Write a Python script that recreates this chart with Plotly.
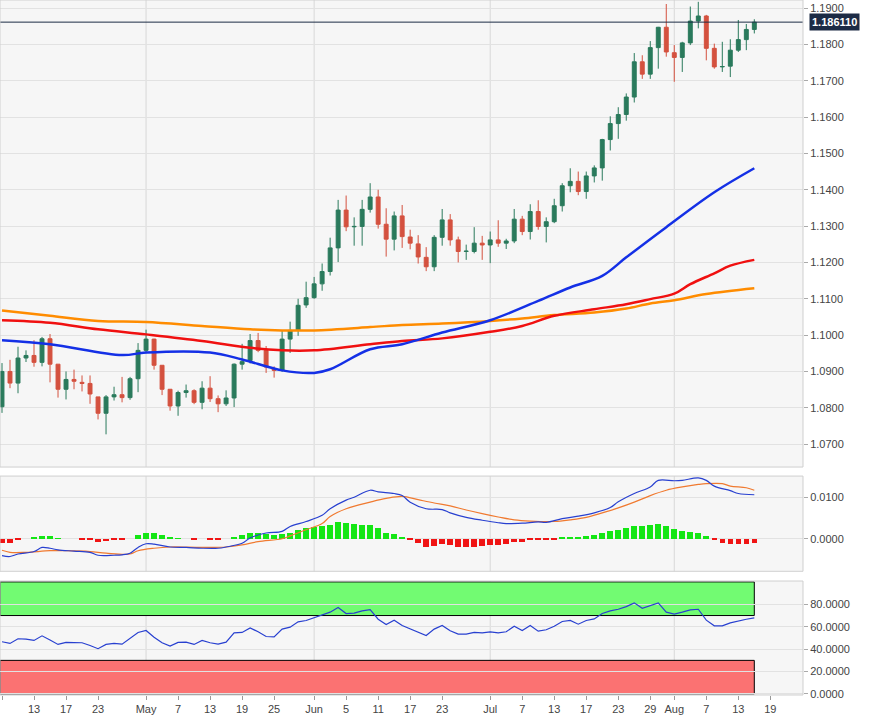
import pandas as pd
import plotly.graph_objects as go

# trading days shown on the chart (EUR/USD daily)
days = pd.bdate_range("2020-04-07", "2020-08-17") + pd.Timedelta(hours=12)

opens = [1.0803, 1.0900, 1.0868, 1.0937, 1.0944, 1.0925, 1.0990, 1.0920, 1.0851, 1.0878,
         1.0870, 1.0867, 1.0830, 1.0785, 1.0830, 1.0836, 1.0828, 1.0880, 1.0958, 1.0989,
         1.0917, 1.0851, 1.0805, 1.0842, 1.0847, 1.0815, 1.0854, 1.0825, 1.0811, 1.0827,
         1.0920, 1.0930, 1.0985, 1.0958, 1.0907, 1.0903, 1.0989, 1.1013, 1.1083, 1.1103,
         1.1141, 1.1175, 1.1240, 1.1344, 1.1298, 1.1299, 1.1346, 1.1380, 1.1305, 1.1264,
         1.1328, 1.1270, 1.1251, 1.1214, 1.1188, 1.1269, 1.1317, 1.1262, 1.1230, 1.1230,
         1.1253, 1.1248, 1.1262, 1.1253, 1.1259, 1.1319, 1.1285, 1.1340, 1.1299, 1.1312,
         1.1356, 1.1411, 1.1423, 1.1395, 1.1438, 1.1460, 1.1538, 1.1582, 1.1607, 1.1655,
         1.1752, 1.1718, 1.1791, 1.1847, 1.1777, 1.1764, 1.1804, 1.1864, 1.1878, 1.1789,
         1.1738, 1.1740, 1.1784, 1.1813, 1.1841]
highs = [1.0923, 1.0932, 1.0968, 1.0958, 1.0986, 1.0995, 1.1003, 1.0920, 1.0900, 1.0905,
         1.0889, 1.0889, 1.0830, 1.0835, 1.0858, 1.0885, 1.0885, 1.0978, 1.1015, 1.0990,
         1.0917, 1.0851, 1.0847, 1.0864, 1.0851, 1.0873, 1.0887, 1.0834, 1.0848, 1.0922,
         1.0976, 1.1003, 1.1006, 1.0970, 1.0914, 1.1013, 1.1037, 1.1100, 1.1147, 1.1160,
         1.1197, 1.1268, 1.1372, 1.1384, 1.1324, 1.1372, 1.1418, 1.1400, 1.1349, 1.1340,
         1.1358, 1.1290, 1.1275, 1.1242, 1.1275, 1.1347, 1.1333, 1.1271, 1.1249, 1.1297,
         1.1273, 1.1285, 1.1316, 1.1265, 1.1347, 1.1328, 1.1360, 1.1371, 1.1324, 1.1375,
         1.1418, 1.1459, 1.1450, 1.1450, 1.1467, 1.1540, 1.1602, 1.1627, 1.1665, 1.1776,
         1.1770, 1.1809, 1.1848, 1.1911, 1.1798, 1.1807, 1.1904, 1.1917, 1.1881, 1.1802,
         1.1807, 1.1814, 1.1867, 1.1856, 1.1869]
lows = [1.0786, 1.0854, 1.0840, 1.0926, 1.0913, 1.0914, 1.0870, 1.0828, 1.0823, 1.0851,
        1.0845, 1.0811, 1.0768, 1.0727, 1.0820, 1.0815, 1.0822, 1.0843, 1.0950, 1.0905,
        1.0835, 1.0792, 1.0778, 1.0828, 1.0810, 1.0796, 1.0816, 1.0788, 1.0805, 1.0802,
        1.0905, 1.0922, 1.0953, 1.0896, 1.0883, 1.0899, 1.0951, 1.0998, 1.1075, 1.1100,
        1.1122, 1.1164, 1.1201, 1.1286, 1.1246, 1.1246, 1.1337, 1.1293, 1.1216, 1.1233,
        1.1240, 1.1236, 1.1197, 1.1176, 1.1176, 1.1246, 1.1246, 1.1200, 1.1207, 1.1225,
        1.1207, 1.1198, 1.1243, 1.1237, 1.1253, 1.1275, 1.1263, 1.1290, 1.1255, 1.1308,
        1.1340, 1.1393, 1.1385, 1.1375, 1.1420, 1.1425, 1.1508, 1.1540, 1.1590, 1.1640,
        1.1705, 1.1705, 1.1733, 1.1766, 1.1697, 1.1724, 1.1798, 1.1844, 1.1756, 1.1733,
        1.1724, 1.1710, 1.1779, 1.1784, 1.1830]
closes = [1.0900, 1.0868, 1.0937, 1.0944, 1.0925, 1.0990, 1.0920, 1.0851, 1.0878, 1.0873,
          1.0867, 1.0838, 1.0785, 1.0830, 1.0836, 1.0828, 1.0880, 1.0958, 1.0989, 1.0917,
          1.0851, 1.0805, 1.0842, 1.0847, 1.0815, 1.0854, 1.0825, 1.0811, 1.0827, 1.0920,
          1.0927, 1.0985, 1.0958, 1.0912, 1.0903, 1.0989, 1.1013, 1.1082, 1.1103, 1.1141,
          1.1175, 1.1240, 1.1344, 1.1298, 1.1299, 1.1346, 1.1380, 1.1305, 1.1264, 1.1328,
          1.1271, 1.1253, 1.1215, 1.1188, 1.1269, 1.1317, 1.1262, 1.1230, 1.1231, 1.1253,
          1.1248, 1.1262, 1.1253, 1.1259, 1.1319, 1.1285, 1.1340, 1.1299, 1.1312, 1.1356,
          1.1411, 1.1423, 1.1395, 1.1438, 1.1460, 1.1538, 1.1582, 1.1607, 1.1655, 1.1752,
          1.1718, 1.1791, 1.1847, 1.1779, 1.1764, 1.1804, 1.1864, 1.1878, 1.1789, 1.1738,
          1.1739, 1.1784, 1.1813, 1.1841, 1.1861]
last_price = 1.186110

# moving averages, sampled at trading-day positions
sma_fast_idx = [0, 6, 15, 18, 26, 30, 35, 39, 41, 46, 50, 55, 61, 67, 71, 75, 78, 83, 89, 94]
sma_fast = [1.0986, 1.0975, 1.0945, 1.0952, 1.0952, 1.0933, 1.0903, 1.0896, 1.0906, 1.0961,
            1.0975, 1.1007, 1.1041, 1.1094, 1.1131, 1.1163, 1.1214, 1.1297, 1.1393, 1.1459]
sma_mid_idx = [0, 6, 12, 18, 25, 31, 35, 39, 46, 50, 55, 61, 65, 69, 74, 78, 81, 84, 86, 89, 91, 94]
sma_mid = [1.1041, 1.1034, 1.1016, 1.1002, 1.0984, 1.0965, 1.0958, 1.0958, 1.0975, 1.0984, 1.0991,
           1.1009, 1.1025, 1.1053, 1.1071, 1.1085, 1.1099, 1.1114, 1.1140, 1.1170, 1.1191, 1.1207]
sma_slow_idx = [0, 6, 12, 18, 25, 31, 35, 39, 46, 50, 55, 61, 65, 69, 74, 78, 81, 84, 88, 94]
sma_slow = [1.1068, 1.1053, 1.1039, 1.1036, 1.1025, 1.1016, 1.1013, 1.1013, 1.1022, 1.1028,
            1.1032, 1.1039, 1.1046, 1.1055, 1.1062, 1.1073, 1.1087, 1.1096, 1.1113, 1.1129]

# MACD
macd_idx = [0, 1, 2, 4, 5, 6, 7, 9, 11, 12, 14, 15, 16, 17, 18, 19, 21, 23, 25, 27, 28, 30, 31, 33,
            35, 36, 38, 40, 41, 43, 44, 46, 47, 49, 50, 51, 53, 55, 56, 58, 60, 62, 63, 65, 67, 68,
            70, 72, 74, 76, 77, 79, 81, 82, 84, 85, 87, 88, 89, 91, 92, 94]
macd = [-0.0041, -0.0043, -0.0037, -0.0031, -0.0021, -0.0023, -0.0027, -0.0030, -0.0033, -0.0040,
        -0.0040, -0.0039, -0.0035, -0.0021, -0.0012, -0.0013, -0.0020, -0.0021, -0.0023, -0.0023,
        -0.0020, -0.0011, 0.0002, 0.0014, 0.0018, 0.0030, 0.0042, 0.0057, 0.0073, 0.0094, 0.0101,
        0.0118, 0.0114, 0.0110, 0.0105, 0.0089, 0.0073, 0.0071, 0.0063, 0.0052, 0.0045, 0.0039,
        0.0037, 0.0038, 0.0041, 0.0040, 0.0049, 0.0055, 0.0063, 0.0076, 0.0090, 0.0110, 0.0126,
        0.0142, 0.0141, 0.0142, 0.0148, 0.0142, 0.0128, 0.0117, 0.0110, 0.0107]
signal_idx = [0, 1, 3, 6, 8, 11, 13, 16, 17, 19, 21, 25, 28, 30, 32, 35, 36, 38, 40, 41, 43, 46, 48,
              50, 52, 54, 56, 58, 60, 62, 64, 66, 69, 71, 73, 75, 77, 79, 81, 83, 85, 87, 88, 90, 91, 93, 94]
signal = [-0.0028, -0.0033, -0.0033, -0.0029, -0.0029, -0.0031, -0.0035, -0.0037, -0.0029, -0.0023,
          -0.0020, -0.0021, -0.0020, -0.0015, -0.0007, 0.0000, 0.0007, 0.0022, 0.0037, 0.0054,
          0.0073, 0.0089, 0.0098, 0.0103, 0.0095, 0.0087, 0.0080, 0.0070, 0.0061, 0.0053, 0.0046,
          0.0043, 0.0042, 0.0046, 0.0052, 0.0063, 0.0075, 0.0089, 0.0105, 0.0118, 0.0126, 0.0132,
          0.0134, 0.0134, 0.0128, 0.0124, 0.0118]
hist = [-0.0011, -0.0011, -0.0003, 0.0000, 0.0002, 0.0007, 0.0006, 0.0001, 0.0000, 0.0000,
        -0.0002, -0.0003, -0.0007, -0.0006, -0.0004, -0.0002, 0.0000, 0.0008, 0.0015, 0.0014,
        0.0008, 0.0002, 0.0001, 0.0000, -0.0001, 0.0000, -0.0001, -0.0002, 0.0000, 0.0005,
        0.0009, 0.0015, 0.0015, 0.0012, 0.0010, 0.0012, 0.0015, 0.0022, 0.0025, 0.0028,
        0.0030, 0.0034, 0.0040, 0.0038, 0.0036, 0.0034, 0.0033, 0.0026, 0.0015, 0.0011,
        0.0003, -0.0002, -0.0011, -0.0019, -0.0017, -0.0013, -0.0015, -0.0019, -0.0020, -0.0019,
        -0.0017, -0.0016, -0.0015, -0.0014, -0.0008, -0.0007, -0.0004, -0.0004, -0.0004, -0.0002,
        0.0002, 0.0005, 0.0005, 0.0007, 0.0009, 0.0014, 0.0019, 0.0022, 0.0026, 0.0032,
        0.0032, 0.0033, 0.0035, 0.0030, 0.0023, 0.0018, 0.0016, 0.0015, 0.0006, -0.0002,
        -0.0011, -0.0013, -0.0013, -0.0012, -0.0011]

rsi = [46.6, 45.1, 49.3, 49.0, 47.8, 51.9, 48.1, 44.2, 46.0, 45.7,
       45.7, 43.3, 40.4, 44.2, 45.1, 44.5, 49.6, 54.9, 56.7, 50.7,
       45.7, 42.7, 46.0, 46.3, 44.2, 47.8, 45.7, 44.5, 46.3, 54.6,
       54.9, 59.0, 55.5, 51.3, 51.0, 57.9, 59.6, 64.4, 65.6, 67.9,
       70.0, 73.0, 77.1, 71.8, 72.1, 74.1, 75.3, 66.7, 62.0, 65.9,
       61.1, 58.1, 55.2, 52.2, 57.9, 61.1, 56.4, 53.4, 53.4, 54.9,
       54.6, 55.5, 54.6, 55.5, 60.5, 56.7, 61.1, 56.1, 57.3, 60.5,
       64.7, 65.6, 62.3, 65.6, 67.0, 71.8, 74.1, 75.6, 78.0, 81.3,
       76.5, 79.2, 81.3, 73.0, 71.2, 73.0, 75.0, 75.6, 65.9, 60.8,
       60.8, 63.5, 65.3, 66.7, 67.9]

tick_days = ["2020-04-07", "2020-04-13", "2020-04-17", "2020-04-23", "2020-05-01", "2020-05-07",
             "2020-05-13", "2020-05-19", "2020-05-25", "2020-06-01", "2020-06-05", "2020-06-11",
             "2020-06-17", "2020-06-23", "2020-07-01", "2020-07-07", "2020-07-13", "2020-07-17",
             "2020-07-23", "2020-07-29", "2020-08-03", "2020-08-07", "2020-08-13", "2020-08-19"]
tick_text = ["7", "13", "17", "23", "May", "7", "13", "19", "25", "Jun", "5", "11", "17", "23",
             "Jul", "7", "13", "17", "23", "29", "Aug", "7", "13", "19"]
month_days = ["2020-05-01", "2020-06-01", "2020-07-01", "2020-08-03"]

x_start = pd.Timestamp("2020-04-07 06:00")
x_end = pd.Timestamp("2020-08-25 14:00")
last_day = days[-1]

fig = go.Figure()
fig.add_trace(go.Candlestick(x=days, open=opens, high=highs, low=lows, close=closes,
                             increasing=dict(line=dict(color="#2a7a5c", width=1), fillcolor="#2a7a5c"),
                             decreasing=dict(line=dict(color="#d4513f", width=1), fillcolor="#d4513f"),
                             whiskerwidth=0, xaxis="x", yaxis="y"))
for idx, vals, col in [(sma_slow_idx, sma_slow, "#ff8c00"), (sma_mid_idx, sma_mid, "#f01010"),
                       (sma_fast_idx, sma_fast, "#1430e6")]:
    fig.add_trace(go.Scatter(x=[days[i] for i in idx], y=vals, mode="lines",
                             line=dict(color=col, width=2.5, shape="spline"), xaxis="x", yaxis="y"))

fig.add_trace(go.Bar(x=days, y=hist, marker_color=["#14e614" if h >= 0 else "#f01414" for h in hist],
                     marker_line_width=0, width=5.6 * 3600 * 1000 * 24 / 8, xaxis="x", yaxis="y2"))
fig.add_trace(go.Scatter(x=[days[i] for i in signal_idx], y=signal, mode="lines",
                         line=dict(color="#f07a30", width=1.2, shape="spline"), xaxis="x", yaxis="y2"))
fig.add_trace(go.Scatter(x=[days[i] for i in macd_idx], y=macd, mode="lines",
                         line=dict(color="#2840d0", width=1.2, shape="spline"), xaxis="x", yaxis="y2"))
fig.add_trace(go.Scatter(x=days, y=rsi, mode="lines", line=dict(color="#2840d0", width=1.2),
                         xaxis="x", yaxis="y3"))

shapes = []
# overbought / oversold bands
shapes.append(dict(type="rect", xref="x", yref="y3", x0=x_start, x1=last_day, y0=70, y1=100,
                   fillcolor="#72fb72", line=dict(color="black", width=1), layer="below"))
shapes.append(dict(type="rect", xref="x", yref="y3", x0=x_start, x1=last_day, y0=0, y1=30,
                   fillcolor="#fb7272", line=dict(color="black", width=1), layer="below"))
for yr in ["y", "y2", "y3"]:
    for d in month_days:
        shapes.append(dict(type="line", xref="x", yref=yr + " domain", x0=d + " 12:00", x1=d + " 12:00",
                           y0=0, y1=1, line=dict(color="#d8d8d8", width=1), layer="below"))
shapes.append(dict(type="line", xref="paper", yref="y", x0=0, x1=1, y0=last_price, y1=last_price,
                   line=dict(color="#1c2b45", width=1)))
# panel borders
for y0, y1 in [(0.328, 1.0), (0.178, 0.315), (0.0, 0.164)]:
    shapes.append(dict(type="rect", xref="paper", yref="paper", x0=0, x1=1, y0=y0, y1=y1,
                       line=dict(color="#cfcfcf", width=1)))

font = dict(family="Liberation Sans, Arial", size=11, color="#444")
yax = dict(side="right", showgrid=True, gridcolor="#e2e2e2", zeroline=False, ticks="outside",
           ticklen=4, tickcolor="#aaa", tickfont=font, anchor="x", fixedrange=True, automargin=False)

fig.update_layout(
    width=894, height=722, margin=dict(l=0, r=91, t=0, b=27, autoexpand=False),
    paper_bgcolor="white", plot_bgcolor="#f6f6f6", showlegend=False,
    font=font, shapes=shapes, bargap=0,
    xaxis=dict(type="date", range=[x_start, x_end], rangebreaks=[dict(bounds=["sat", "mon"])],
               rangeslider=dict(visible=False), showgrid=False, tickvals=[d + " 12:00" for d in tick_days],
               ticktext=tick_text, ticks="outside", ticklen=4, tickcolor="#999", tickfont=font,
               anchor="y3", showline=False, automargin=False),
    yaxis=dict(yax, domain=[0.328, 1.0], range=[1.0637, 1.1922], tickformat=".4f", dtick=0.01),
    yaxis2=dict(yax, domain=[0.178, 0.315], range=[-0.0079, 0.01524], tickvals=[0, 0.01], tickformat=".4f"),
    yaxis3=dict(yax, domain=[0.0, 0.164], range=[-0.9, 100.8], tickvals=[0, 20, 40, 60, 80], tickformat=".4f"),
    annotations=[dict(xref="paper", yref="y", x=1.0, y=last_price, xanchor="left", xshift=6,
                      text="<b>%.6f</b>" % last_price, showarrow=False, bgcolor="#1c2b45",
                      font=dict(family="Liberation Sans, Arial", size=11, color="white"), borderpad=2)],
)
fig.write_html("out.html", config={"displayModeBar": False},
               post_script="document.body.style.margin='0';")
